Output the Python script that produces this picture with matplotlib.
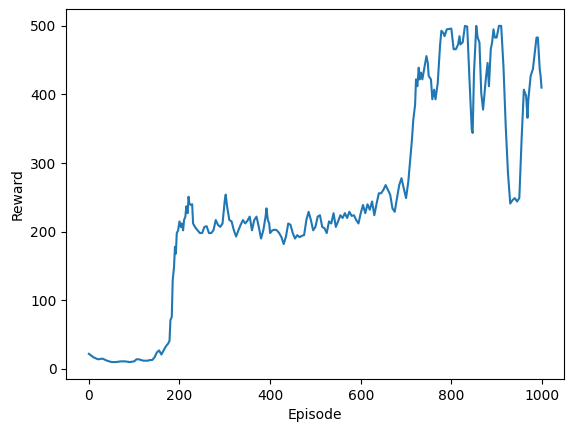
import matplotlib
matplotlib.use('Agg')
import matplotlib.pyplot as plt

# values (episode, reward)
episodes = [0, 10, 20, 30, 40, 50, 60, 70, 80, 90, 100, 105, 110, 120, 130, 135, 140, 145,
	150, 155, 160, 165, 170, 175, 178, 180, 183, 185, 188, 190, 192, 194, 197,
	200, 203, 205, 208, 210, 213, 215, 218, 220, 222, 225, 228, 230, 235, 240, 245,
	250, 255, 260, 265, 270, 275, 280, 285, 290, 295, 300, 302, 305, 310, 315, 320,
	325, 330, 335, 340, 345, 350, 355, 360, 365, 370, 375, 380, 385, 390, 392, 395,
	398, 400, 405, 410, 415, 420, 425, 430, 435, 440, 445, 450, 455, 460, 465, 470,
	475, 480, 485, 490, 495, 500, 505, 510, 515, 520, 525, 530, 535, 540, 545, 550,
	555, 560, 565, 570, 575, 580, 585, 590, 595, 600, 605, 610, 615, 620, 625, 630,
	635, 640, 645, 650, 655, 660, 665, 670, 675, 680, 685, 690, 695, 700, 705, 710,
	713, 716, 720, 722, 725, 728, 730, 733, 736, 740, 745, 748, 750, 755, 758, 762,
	765, 770, 775, 778, 782, 785, 790, 800, 805, 810, 815, 818, 820, 825, 830, 835,
	840, 845, 847, 850, 855, 858, 862, 866, 870, 873, 876, 880, 883, 887, 890, 893,
	896, 900, 905, 910, 915, 920, 925, 930, 935, 940, 945, 950, 955, 960, 965, 968,
	970, 975, 980, 985, 988, 991, 995, 997, 999]
rewards = [22, 17, 14, 15, 12, 10, 10, 11, 11, 10, 11, 14, 14, 12, 12, 13, 13, 17,
	24, 27, 21, 27, 33, 37, 41, 71, 76, 129, 149, 178, 168, 198, 202,
	215, 207, 212, 202, 217, 222, 237, 227, 251, 241, 239, 240, 212, 206, 202, 198,
	198, 207, 208, 198, 198, 202, 217, 210, 207, 212, 246, 254, 237, 217, 215, 202,
	193, 202, 210, 217, 212, 216, 222, 202, 217, 222, 207, 190, 202, 222, 234, 217,
	212, 198, 202, 203, 202, 198, 192, 182, 193, 212, 210, 198, 190, 195, 192, 194,
	195, 217, 229, 217, 202, 207, 222, 224, 207, 205, 198, 215, 212, 227, 207, 215,
	224, 220, 227, 220, 229, 223, 224, 217, 212, 227, 239, 227, 240, 232, 244, 224,
	241, 256, 256, 261, 268, 261, 254, 234, 229, 249, 268, 278, 263, 249, 273, 310,
	334, 363, 385, 422, 412, 439, 422, 432, 422, 437, 456, 446, 427, 422, 393, 407,
	393, 417, 471, 493, 490, 485, 495, 496, 466, 466, 473, 485, 473, 476, 500, 499,
	422, 349, 344, 432, 500, 483, 476, 402, 378, 400, 422, 446, 412, 466, 476, 495,
	483, 483, 500, 500, 441, 354, 285, 241, 246, 249, 244, 249, 334, 407, 398, 366,
	393, 427, 437, 466, 483, 483, 437, 427, 410]

fig = plt.figure(figsize=(5.71, 4.32), dpi=100)
ax = fig.add_axes([0.116, 0.123, 0.872, 0.856])
ax.plot(episodes, rewards)
ax.set_xlabel('Episode')
ax.set_ylabel('Reward')
fig.savefig('out.png', dpi=100)
